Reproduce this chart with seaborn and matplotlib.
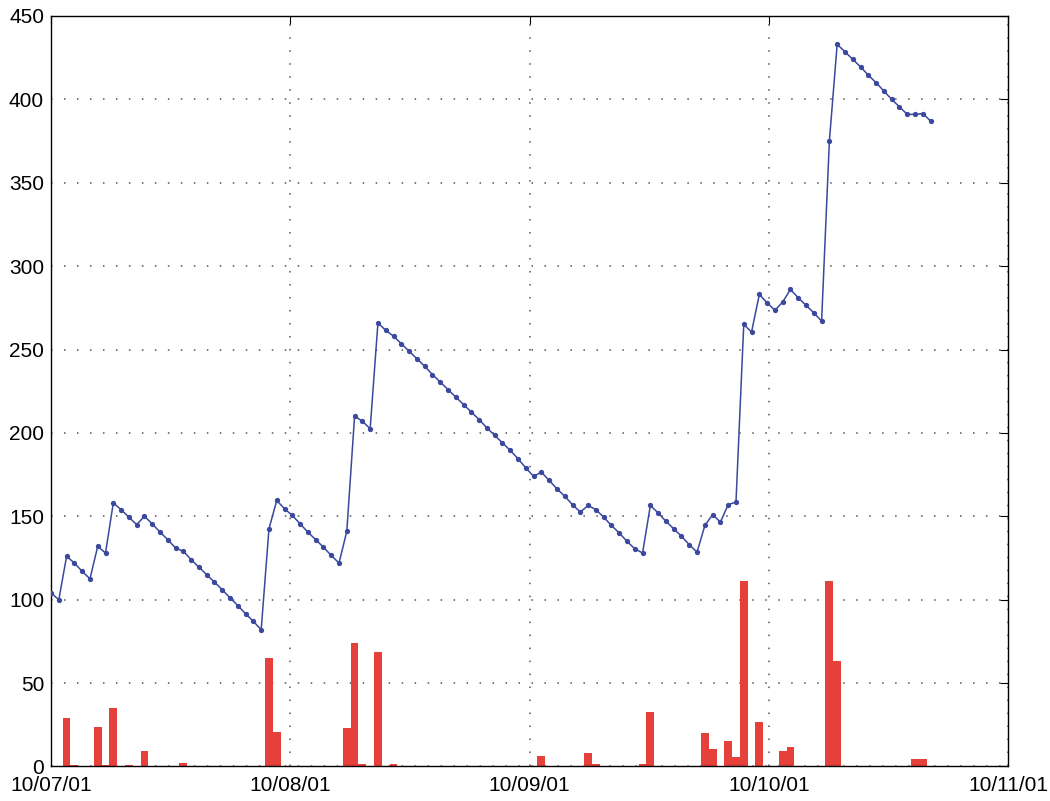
import numpy as np
import pandas as pd
import matplotlib
matplotlib.use("Agg")
import matplotlib.pyplot as plt
import matplotlib.dates as mdates
import seaborn as sns

# samples every ~47 minutes starting 2001-10-07 00:00
start = "2001-10-07"
sample_period = "2810s"

level = [
    104, 100, 126, 122, 117, 112.5, 132, 128, 158, 154,
    149.5, 145, 150, 145.5, 140.5, 136, 131, 129, 124, 119.5,
    115, 110.5, 106, 101, 96.5, 91.5, 87, 82, 142.5, 159.5,
    154.5, 150.5, 145.5, 140.5, 136, 131.5, 126.5, 122, 141, 210,
    207, 202.5, 266, 261.5, 258, 253.5, 249, 244.5, 240, 235,
    230.5, 226, 221.5, 217, 212.5, 208, 203, 198.5, 194, 189.5,
    184.5, 179, 174, 176.5, 171.5, 166.5, 162, 157, 152.5, 156.5,
    154, 149.5, 144.5, 140, 135, 130.5, 128, 156.5, 152, 147,
    142.5, 138, 133, 128.5, 144.5, 151, 146.5, 157, 158.5, 265,
    260.5, 283, 278, 273.5, 278.5, 286, 281, 276.5, 272, 267,
    375, 433, 428.5, 424, 419.5, 414.5, 410, 405, 400, 395.5,
    391, 391, 391.5, 387,
]

events = [
    0, 0, 29.3, 1, 0, 0, 23.5, 1, 34.9, 0,
    1, 0, 9.3, 0, 0, 0, 0, 2.1, 0, 0,
    0, 0, 0, 0, 0, 0, 0, 0, 64.9, 20.9,
    0, 0, 0, 0, 0, 0, 0, 0, 23.3, 73.9,
    1.3, 0, 68.5, 0, 1.3, 0, 0, 0, 0, 0,
    0, 0, 0, 0, 0, 0, 0, 0, 0, 0,
    0, 0, 0, 6.3, 0, 0, 0, 0, 0, 8.3,
    1.5, 0, 0, 0, 0, 0, 1.5, 32.9, 0, 0,
    0, 0, 0, 0, 20.3, 10.7, 0, 15.3, 5.9, 111.4,
    0, 26.5, 0, 0, 9, 11.5, 0, 0, 0, 0,
    111.5, 63.5, 0, 0, 0, 0, 0, 0, 0, 0,
    0, 4.7, 4.7, 0,
]

x_ticks = ["2001-10-07", "2001-10-08", "2001-10-09", "2001-10-10", "2001-10-11"]
y_ticks = list(range(0, 451, 50))

times = pd.date_range(start, periods=len(level), freq=sample_period)
t_num = mdates.date2num(times.to_pydatetime())
step = t_num[1] - t_num[0]

sns.set_style("white")
plt.rcParams["font.family"] = ["Liberation Sans", "DejaVu Sans"]

fig = plt.figure(figsize=(10.5, 8.01), dpi=100)
ax = fig.add_axes([0.0486, 0.0431, 0.9117, 0.937])

ax.bar(t_num, events, width=step, color="#e5403a", linewidth=0, zorder=2)
sns.lineplot(
    x=t_num, y=level, ax=ax, color="#3a489e", linewidth=1.1,
    marker="o", markersize=3.8, markeredgewidth=0, zorder=3,
)

ax.set_xlim(mdates.date2num(pd.Timestamp(x_ticks[0])), mdates.date2num(pd.Timestamp(x_ticks[-1])))
ax.set_ylim(0, 450)
ax.set_xticks(mdates.date2num(pd.to_datetime(x_ticks).to_pydatetime()))
ax.xaxis.set_major_formatter(mdates.DateFormatter("%m/%d/%y"))
ax.set_yticks(y_ticks)

# matlab-style sparse dotted grid
ax.grid(True, color="#555555", linestyle=(0, (1, 7.5)), linewidth=1.1)
ax.set_axisbelow(True)
for s in ax.spines.values():
    s.set_visible(True)
    s.set_color("black")
    s.set_linewidth(1.0)

ax.tick_params(direction="in", length=6, width=0.8, top=True, right=True,
               labelsize=15, colors="black")
ax.tick_params(axis="x", pad=7)
ax.tick_params(axis="y", pad=5)
ax.set_xlabel("")
ax.set_ylabel("")

fig.savefig("out.png", dpi=100)
